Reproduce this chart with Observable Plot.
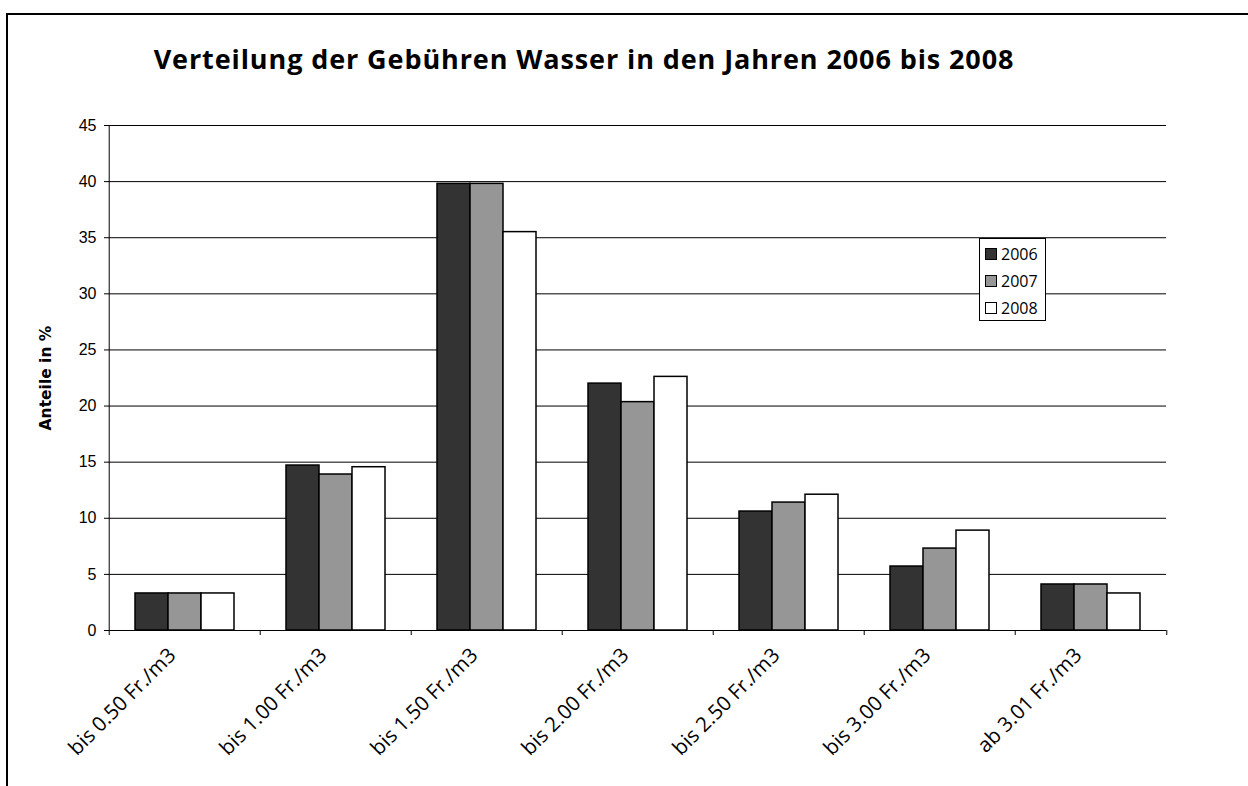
<!DOCTYPE html>
<html>
<head>
<meta charset="utf-8">
<script src="https://cdn.jsdelivr.net/npm/d3@7"></script>
<script src="https://cdn.jsdelivr.net/npm/@observablehq/plot@0.6"></script>
<style>
  html, body { margin: 0; padding: 0; background: #fff; overflow: hidden; width: 1248px; height: 786px; }
  #frame { position: absolute; left: 6px; top: 13px; width: 1300px; height: 900px; border-left: 2px solid #000; border-top: 2px solid #000; }
  #title { position: absolute; left: 0; top: 45px; width: 1168px; text-align: center; font-family: "Open Sans", sans-serif; font-weight: 700; font-size: 27px; letter-spacing: 0.9px; line-height: 27px; color: #000; white-space: nowrap; }
  #chart { position: absolute; left: 0; top: 0; }
  #legend { position: absolute; left: 979px; top: 238px; width: 65px; height: 81px; border: 1px solid #000; background: #fff; font-family: "Open Sans", sans-serif; font-size: 16px; color: #000; }
  .row { position: absolute; left: 0; height: 27px; display: flex; align-items: center; }
  .sw { width: 10px; height: 10px; border: 1px solid #000; margin-left: 5px; margin-right: 4px; }
</style>
</head>
<body>
<div id="frame"></div>
<div id="chart"></div>
<div id="title"></div>
<div id="legend"></div>
<script>
const titleText = "Verteilung der Gebühren Wasser in den Jahren 2006 bis 2008";
const yLabel = "Anteile in %";
const categories = ["bis 0.50 Fr./m3", "bis 1.00 Fr./m3", "bis 1.50 Fr./m3", "bis 2.00 Fr./m3", "bis 2.50 Fr./m3", "bis 3.00 Fr./m3", "ab 3.01 Fr./m3"];
const years = ["2006", "2007", "2008"];
const values2006 = [3.3, 14.7, 39.8, 22.0, 10.6, 5.7, 4.1];
const values2007 = [3.3, 13.9, 39.8, 20.35, 11.4, 7.3, 4.1];
const values2008 = [3.3, 14.55, 35.5, 22.6, 12.1, 8.9, 3.3];
const yTicks = [0, 5, 10, 15, 20, 25, 30, 35, 40, 45];
const colors = ["#333333", "#969696", "#ffffff"];

const series = [values2006, values2007, values2008];
const table = [];
categories.forEach((c, i) => years.forEach((y, j) => table.push({category: c, year: y, value: series[j][i]})));

const W = 1248, H = 786, ML = 107, MR = 80, MT = 125, MB = 156;
const facetW = (W - ML - MR) / categories.length;

document.getElementById("title").textContent = titleText;

const chart = Plot.plot({
  width: W, height: H,
  marginLeft: ML, marginRight: MR, marginTop: MT, marginBottom: MB,
  style: {fontFamily: "'Liberation Sans', Arial, sans-serif", fontSize: "16px", color: "#000", background: "transparent", overflow: "visible"},
  fx: {domain: categories, padding: 0, axis: null, label: null},
  x: {domain: years, paddingInner: 0, paddingOuter: 0.75, axis: null, label: null},
  y: {domain: [0, 45], ticks: yTicks, tickSize: 5, tickPadding: 8, label: null, tickFormat: d => String(d)},
  color: {domain: years, range: colors},
  marks: [
    Plot.ruleY(yTicks.filter(t => t > 0), {stroke: "#000", strokeWidth: 1}),
    Plot.barY(table, {fx: "category", x: "year", y: "value", fill: "year", stroke: "#000", strokeWidth: 1.5}),
    Plot.ruleY([0], {stroke: "#000", strokeWidth: 1}),
    // y axis line + left boundary tick
    Plot.ruleX([categories[0]], {fx: d => d, x: null, dx: -facetW / 2, insetBottom: -5, stroke: "#000", strokeWidth: 1}),
    // category boundary ticks
    Plot.ruleX(categories.slice(1), {fx: d => d, x: null, dx: -facetW / 2, y1: 0, y2: 0, insetBottom: -5, stroke: "#000", strokeWidth: 1}),
    Plot.ruleX([categories[categories.length - 1]], {fx: d => d, x: null, dx: facetW / 2, y1: 0, y2: 0, insetBottom: -5, stroke: "#000", strokeWidth: 1}),
    // category labels
    Plot.text(categories, {fx: d => d, text: d => d, frameAnchor: "bottom", textAnchor: "end", rotate: -45, dx: -8, dy: 26, fontFamily: "'Open Sans', sans-serif", fontSize: 20.5, fill: "#000"}),
    // y label
    Plot.text([yLabel], {fx: () => categories[0], text: d => d, frameAnchor: "left", textAnchor: "middle", rotate: -90, dx: -63, fontFamily: "'DejaVu Sans', Verdana, sans-serif", fontWeight: 700, fontSize: 15.5, fill: "#000"})
  ]
});
document.getElementById("chart").appendChild(chart);

const legend = document.getElementById("legend");
years.forEach((y, j) => {
  const row = document.createElement("div");
  row.className = "row";
  row.style.top = (1 + j * 27) + "px";
  const sw = document.createElement("div");
  sw.className = "sw";
  sw.style.background = colors[j];
  const t = document.createElement("span");
  t.textContent = y;
  row.appendChild(sw);
  row.appendChild(t);
  legend.appendChild(row);
});
</script>
</body>
</html>
